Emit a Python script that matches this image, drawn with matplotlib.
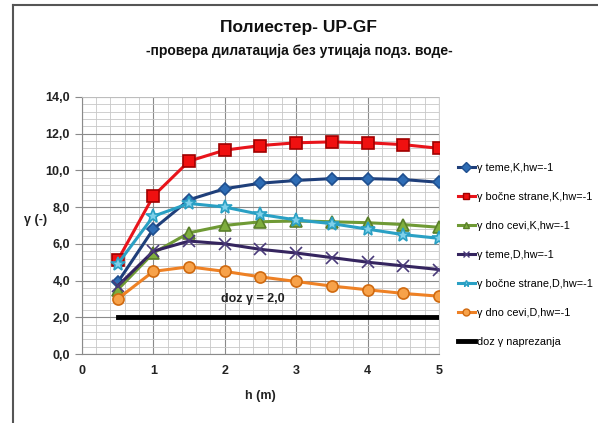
import matplotlib
matplotlib.use("Agg")
import matplotlib.pyplot as plt
from matplotlib.lines import Line2D
from matplotlib.ticker import MultipleLocator, FuncFormatter

plt.rcParams["font.family"] = ["Liberation Sans", "DejaVu Sans"]

# --- data ------------------------------------------------------------------
h = [0.5, 1.0, 1.5, 2.0, 2.5, 3.0, 3.5, 4.0, 4.5, 5.0]
teme_k = [3.9, 6.8, 8.4, 9.0, 9.3, 9.45, 9.55, 9.55, 9.5, 9.35]
bocne_k = [5.1, 8.6, 10.5, 11.1, 11.35, 11.5, 11.55, 11.5, 11.4, 11.2]
dno_k = [3.5, 5.5, 6.6, 7.0, 7.2, 7.25, 7.2, 7.15, 7.05, 6.9]
teme_d = [3.7, 5.6, 6.15, 6.0, 5.7, 5.5, 5.25, 5.0, 4.8, 4.6]
bocne_d = [4.9, 7.5, 8.2, 8.0, 7.6, 7.3, 7.1, 6.8, 6.5, 6.3]
dno_d = [3.0, 4.5, 4.75, 4.5, 4.2, 3.95, 3.7, 3.5, 3.3, 3.15]
doz_h = [0.5, 5.0]
doz_gamma = [2.0, 2.0]

LABELS = [
    "γ teme,K,hw=-1",
    "γ bočne strane,K,hw=-1",
    "γ dno cevi,K,hw=-1",
    "γ teme,D,hw=-1",
    "γ bočne strane,D,hw=-1",
    "γ dno cevi,D,hw=-1",
    "doz γ naprezanja",
]

# (line colour, marker, marker face, marker edge, marker size)
STYLES = [
    ("#1f3f7a", "D", "#2f6db5", "#1f4f8f", 6.5),
    ("#e8141b", "s", "#f01010", "#a00000", 8.5),
    ("#6f9a35", "^", "#7fae3e", "#5a7f2a", 8),
    ("#35255f", "x", "#35255f", "#4a3a7a", 9),
    ("#2aa0c4", "*", "#7fd0ea", "#2aa0c4", 10),
    ("#ee8125", "o", "#f7a24a", "#d06a10", 8),
]

fig = plt.figure(figsize=(5.98, 4.23), dpi=100)
fig.patch.set_facecolor("white")
ax = fig.add_axes([0.137, 0.163, 0.597, 0.608])

series = [teme_k, bocne_k, dno_k, teme_d, bocne_d, dno_d]
handles = []
for vals, (lc, mk, mf, me, ms), lab in zip(series, STYLES, LABELS):
    ax.plot(h, vals, color=lc, linewidth=2.2, marker=mk, markersize=ms,
            markerfacecolor=mf, markeredgecolor=me, markeredgewidth=1.2, zorder=3)
    handles.append(Line2D([], [], color=lc, linewidth=2.2, marker=mk, markersize=5,
                          markerfacecolor=mf, markeredgecolor=me, label=lab))
ax.plot(doz_h, doz_gamma, color="black", linewidth=3.5, zorder=3)
handles.append(Line2D([], [], color="black", linewidth=3.5, label=LABELS[-1]))

ax.text(2.4, 3.0, "doz γ = 2,0", ha="center", va="center", fontsize=9,
        fontweight="bold", color="#222222")

ax.set_xlim(0, 5)
ax.set_ylim(0, 14)
ax.xaxis.set_major_locator(MultipleLocator(1))
ax.xaxis.set_minor_locator(MultipleLocator(0.2))
ax.yaxis.set_major_locator(MultipleLocator(2))
ax.yaxis.set_minor_locator(MultipleLocator(0.4))
ax.yaxis.set_major_formatter(FuncFormatter(lambda v, _: f"{v:.1f}".replace(".", ",")))
ax.grid(True, which="major", color="#8a8a8a", linewidth=0.8)
ax.grid(True, which="minor", color="#c8c8c8", linewidth=0.6)
ax.set_axisbelow(True)
for side in ("top", "right"):
    ax.spines[side].set_color("#c8c8c8")
    ax.spines[side].set_linewidth(0.6)
for side in ("left", "bottom"):
    ax.spines[side].set_color("#8a8a8a")
ax.tick_params(which="minor", length=0)
ax.tick_params(which="major", axis="y", length=5, color="#8a8a8a", labelsize=9)
ax.tick_params(which="major", axis="x", length=0, labelsize=9, pad=8)
for t in ax.get_xticklabels() + ax.get_yticklabels():
    t.set_fontweight("bold")
    t.set_color("#222222")

ax.set_xlabel("h (m)", fontsize=9, fontweight="bold", color="#222222", labelpad=9)
ax.set_ylabel("γ (-)", fontsize=9, fontweight="bold", color="#222222",
              rotation=0, va="center", ha="center")
ax.yaxis.set_label_coords(-0.13, 0.52)

fig.text(0.5, 0.935, "Полиестер- UP-GF", ha="center", va="center",
         fontsize=12.5, fontweight="semibold", color="#111111")
fig.text(0.5, 0.88, "-провера дилатација без утицаја подз. воде-", ha="center",
         va="center", fontsize=10, fontweight="bold", color="#111111")

fig.legend(handles=handles, loc="upper left", bbox_to_anchor=(0.758, 0.625),
           frameon=False, fontsize=7.8, handlelength=1.6, handletextpad=0.2,
           labelspacing=1.75, borderaxespad=0)

# chart-area frame (only top and left edges visible in the reference)
fig.add_artist(Line2D([0.022, 0.998], [0.988, 0.988], color="#555555", linewidth=1.5))
fig.add_artist(Line2D([0.022, 0.022], [0.0, 0.988], color="#555555", linewidth=1.5))

fig.savefig("out.png", dpi=100, facecolor="white")
